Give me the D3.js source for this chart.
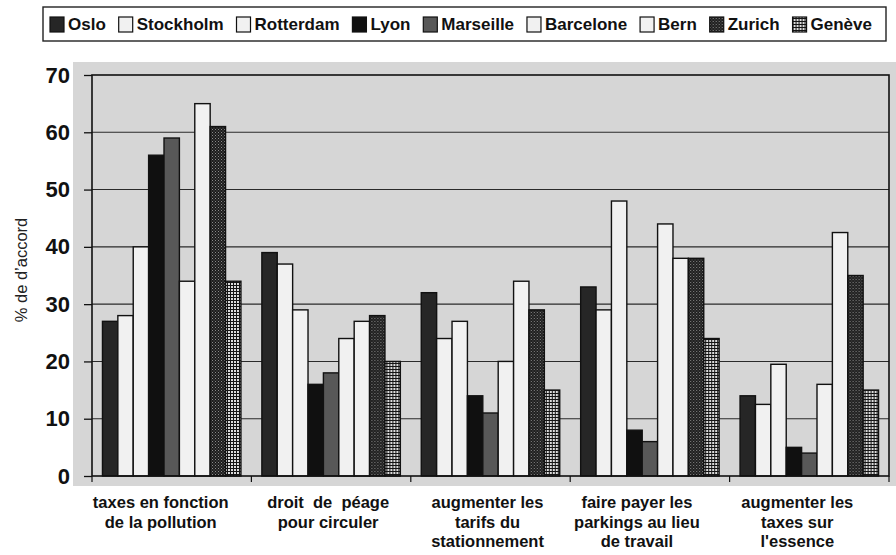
<!DOCTYPE html>
<html>
<head>
<meta charset="utf-8">
<script src="https://cdn.jsdelivr.net/npm/d3@7"></script>
<style>
  body { margin: 0; background: #fff; }
  svg { display: block; }
  .narrow { font-family: "Liberation Sans Narrow", "Arial Narrow", "Liberation Sans", sans-serif; font-weight: bold; }
</style>
</head>
<body>
<div id="chart"></div>
<script>
// ---- data ----
var cities = ["Oslo", "Stockholm", "Rotterdam", "Lyon", "Marseille", "Barcelone", "Bern", "Zurich", "Genève"];
var measures = ["pollution", "peage", "stationnement", "parkings", "essence"];
var measureLabels = [
  ["taxes en fonction", "de la pollution"],
  ["droit  de  péage", "pour circuler"],
  ["augmenter les", "tarifs du", "stationnement"],
  ["faire payer les", "parkings au lieu", "de travail"],
  ["augmenter les", "taxes sur", "l'essence"]
];
// one array per city, values in measure order
var oslo      = [27, 39, 32, 33, 14];
var stockholm = [28, 37, 24, 29, 12.5];
var rotterdam = [40, 29, 27, 48, 19.5];
var lyon      = [56, 16, 14, 8, 5];
var marseille = [59, 18, 11, 6, 4];
var barcelone = [34, 24, 20, 44, 16];
var bern      = [65, 27, 34, 38, 42.5];
var zurich    = [61, 28, 29, 38, 35];
var geneve    = [34, 20, 15, 24, 15];
var yTicks = [0, 10, 20, 30, 40, 50, 60, 70];

var series = [oslo, stockholm, rotterdam, lyon, marseille, barcelone, bern, zurich, geneve];

var width = 896, height = 555;
var margin = {top: 75, right: 7, bottom: 79, left: 92};
var innerW = width - margin.left - margin.right,
    innerH = height - margin.top - margin.bottom;

var svg = d3.select("#chart").append("svg")
            .attr("width", width)
            .attr("height", height);

// patterns for the hatched bars
var defs = svg.append("defs");
var pz = defs.append("pattern").attr("id", "pat-zurich")
             .attr("width", 3).attr("height", 3).attr("patternUnits", "userSpaceOnUse");
pz.append("rect").attr("width", 3).attr("height", 3).attr("fill", "#1c1c1c");
pz.append("rect").attr("x", 0).attr("y", 0).attr("width", 1).attr("height", 1).attr("fill", "#8a8a8a");
pz.append("rect").attr("x", 1.5).attr("y", 1.5).attr("width", 1).attr("height", 1).attr("fill", "#6a6a6a");

var pg = defs.append("pattern").attr("id", "pat-geneve")
             .attr("width", 3).attr("height", 3).attr("patternUnits", "userSpaceOnUse");
pg.append("rect").attr("width", 3).attr("height", 3).attr("fill", "#141414");
pg.append("rect").attr("x", 1).attr("y", 1).attr("width", 2).attr("height", 2).attr("fill", "#dcdcdc");

var fills = ["#262626", "#f1f1f1", "#f1f1f1", "#101010", "#585858",
             "#f1f1f1", "#f1f1f1", "url(#pat-zurich)", "url(#pat-geneve)"];
var color = d3.scaleOrdinal().domain(cities).range(fills);

// scanned grey page behind the plot
svg.append("rect")
   .attr("x", 73).attr("y", 62)
   .attr("width", width - 73).attr("height", 424)
   .attr("fill", "#d6d6d6");

var g = svg.append("g")
           .attr("transform", "translate(" + margin.left + "," + margin.top + ")");

var x0 = d3.scaleBand().domain(measures).range([0, innerW]).padding(0);
var x1 = d3.scaleBand().domain(cities).range([0, x0.bandwidth()])
           .paddingInner(0).paddingOuter(0.68);
var y = d3.scaleLinear().domain([0, 70]).range([innerH, 0]);

// grid lines
g.selectAll(".grid")
 .data(yTicks.filter(function(d) { return d > 0 && d < 70; }))
 .enter().append("line")
 .attr("x1", 0).attr("x2", innerW)
 .attr("y1", function(d) { return y(d); })
 .attr("y2", function(d) { return y(d); })
 .attr("stroke", "#2a2a2a").attr("stroke-width", 1.1);

// bars
var groups = g.selectAll(".grp")
              .data(measures)
              .enter().append("g")
              .attr("transform", function(d) { return "translate(" + x0(d) + ",0)"; });

groups.selectAll("rect")
      .data(function(m, mi) {
        return cities.map(function(c, ci) { return {city: c, value: series[ci][mi]}; });
      })
      .enter().append("rect")
      .attr("x", function(d) { return x1(d.city); })
      .attr("y", function(d) { return y(d.value); })
      .attr("width", x1.bandwidth())
      .attr("height", function(d) { return innerH - y(d.value); })
      .attr("fill", function(d) { return color(d.city); })
      .attr("stroke", "#111")
      .attr("stroke-width", 1.4);

// frame
g.append("rect")
 .attr("width", innerW).attr("height", innerH)
 .attr("fill", "none").attr("stroke", "#111").attr("stroke-width", 1.6);

// y axis
var yAxis = g.append("g")
             .call(d3.axisLeft(y).tickValues(yTicks).tickSize(8).tickPadding(14));
yAxis.select(".domain").remove();
yAxis.selectAll("line").attr("stroke", "#111").attr("stroke-width", 1.3);
yAxis.selectAll("text")
     .attr("fill", "#111")
     .style("font-family", "'Liberation Sans', Arial, sans-serif")
     .style("font-weight", "bold")
     .style("font-size", "22px");

// x axis ticks at the group boundaries
var bounds = measures.map(function(d) { return x0(d); }).concat([innerW]);
g.selectAll(".xtick")
 .data(bounds)
 .enter().append("line")
 .attr("x1", function(d) { return d; }).attr("x2", function(d) { return d; })
 .attr("y1", innerH).attr("y2", innerH + 6)
 .attr("stroke", "#111").attr("stroke-width", 1.2);

// x labels
var labelShift = [-11, -3, -3, -13, -12];
var xl = g.selectAll(".xlab")
          .data(measureLabels)
          .enter().append("text")
          .attr("class", "narrow")
          .attr("text-anchor", "middle")
          .attr("fill", "#111")
          .style("font-size", "16.5px")
          .attr("transform", function(d, i) {
            return "translate(" + (x0(measures[i]) + x0.bandwidth() / 2 + labelShift[i]) + "," + (innerH + 32) + ")";
          });
xl.selectAll("tspan")
  .data(function(d) { return d; })
  .enter().append("tspan")
  .attr("x", 0)
  .attr("dy", function(d, i) { return i === 0 ? 0 : 19.5; })
  .style("white-space", "pre")
  .text(function(d) { return d; });

// y label
svg.append("text")
   .attr("transform", "translate(27,270) rotate(-90)")
   .attr("text-anchor", "middle")
   .attr("fill", "#222")
   .style("font-family", "'Liberation Sans', Arial, sans-serif")
   .style("font-size", "16.5px")
   .text("% de d\u2019accord");

// legend
var legend = svg.append("g");
legend.append("rect")
      .attr("x", 43).attr("y", 7).attr("width", 843).attr("height", 34)
      .attr("fill", "#fff").attr("stroke", "#222").attr("stroke-width", 1.4);

var items = legend.selectAll(".item")
                  .data(cities)
                  .enter().append("g");
items.append("rect")
     .attr("width", 14).attr("height", 15).attr("y", -13)
     .attr("fill", function(d) { return color(d); })
     .attr("stroke", "#111").attr("stroke-width", 1.2);
items.append("text")
     .attr("class", "narrow")
     .attr("x", 18)
     .attr("fill", "#111")
     .style("font-size", "17px")
     .text(function(d) { return d; });

// spread the items over the box
var widths = [];
items.each(function() { widths.push(18 + d3.select(this).select("text").node().getComputedTextLength()); });
var span = 872 - 50;
var gap = (span - d3.sum(widths)) / (cities.length - 1);
var cx = 50;
items.attr("transform", function(d, i) {
  var t = "translate(" + cx + ",30)";
  cx += widths[i] + gap;
  return t;
});
</script>
</body>
</html>
